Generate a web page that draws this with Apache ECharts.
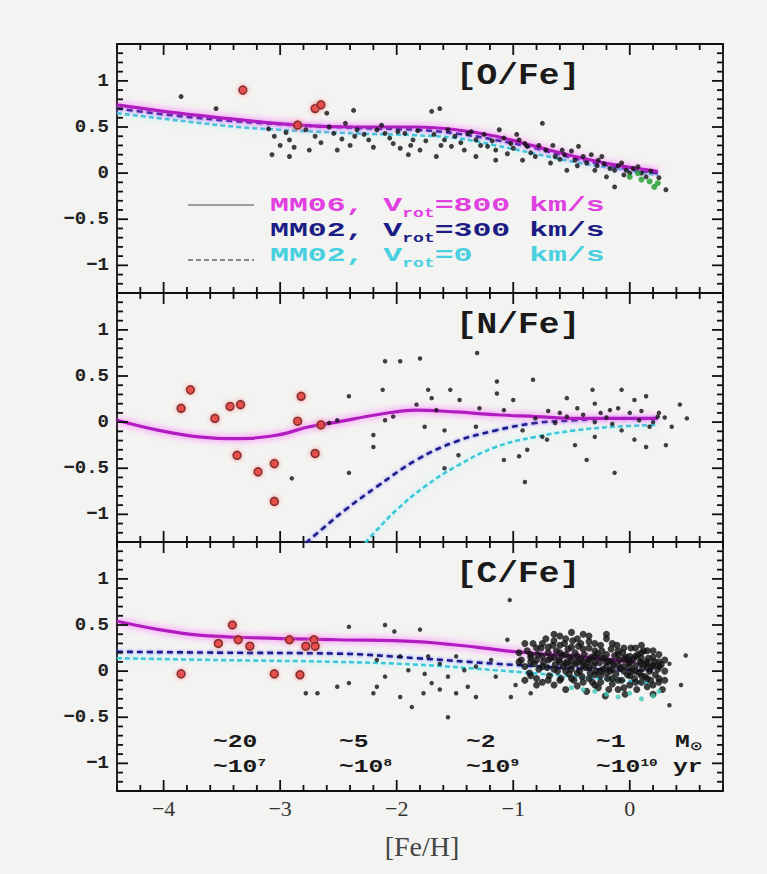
<!DOCTYPE html>
<html>
<head>
<meta charset="utf-8">
<script src="https://cdn.jsdelivr.net/npm/echarts@6/dist/echarts.min.js"></script>
<style>
  html, body { margin: 0; padding: 0; background: #f3f3f1; }
  #chart { width: 767px; height: 874px; }
</style>
</head>
<body>
<div id="chart"></div>
<script>
// ---- axes ----
const xMajor = [-4, -3, -2, -1, 0];
const yMajor = [-1, -0.5, 0, 0.5, 1];
const panelTitles = ['[O/Fe]', '[N/Fe]', '[C/Fe]'];
const massLabels = ['~20', '~5', '~2', '~1'];
const ageExponents = ['7', '8', '9', '10'];

// ---- [O/Fe] ----
const oMM06 = [[-4.4,0.74],[-3.87,0.65],[-3.36,0.58],[-2.85,0.52],[-2.34,0.50],[-1.83,0.50],[-1.49,0.47],[-1.15,0.40],[-0.81,0.29],[-0.47,0.18],[-0.13,0.09],[0.24,0.02]];
const oMM02v300 = [[-4.4,0.70],[-3.87,0.62],[-3.36,0.56],[-2.85,0.52],[-2.34,0.49],[-1.83,0.47],[-1.49,0.43],[-1.15,0.36],[-0.81,0.27],[-0.47,0.16],[-0.13,0.07],[0.24,0.0]];
const oMM02v0 = [[-4.4,0.65],[-3.87,0.57],[-3.36,0.50],[-2.85,0.46],[-2.34,0.43],[-1.83,0.41],[-1.49,0.38],[-1.15,0.30],[-0.81,0.21],[-0.47,0.12],[-0.13,0.05],[0.24,-0.02]];
const oStars = [[-3.85,0.83],[-3.55,0.70],[-3.05,0.40],[-3.07,0.20],[-2.92,0.36],[-2.92,0.18],[-2.78,0.47],[-2.75,0.25],[-2.6,0.65],[-2.54,0.43],[-2.51,0.25],[-2.44,0.54],[-2.37,0.68],[-2.36,0.40],[-2.34,0.47],[-2.24,0.36],[-2.17,0.47],[-2.10,0.43],[-2.03,0.32],[-1.97,0.27],[-1.93,0.43],[-1.9,0.2],[-1.86,0.36],[-1.8,0.25],[-1.70,0.67],[-1.66,0.18],[-1.63,0.70],[-1.59,0.36],[-1.56,0.47],[-1.53,0.29],[-1.42,0.25],[-1.39,0.43],[-1.32,0.36],[-1.32,0.18],[-1.22,0.29],[-1.15,0.14],[-1.15,0.25],[-1.12,0.47],[-1.05,0.21],[-1.02,0.32],[-0.95,0.36],[-0.92,0.14],[-0.88,0.29],[-0.81,0.18],[-0.75,0.54],[-0.68,0.11],[-0.64,0.18],[-0.58,0.25],[-0.54,0.03],[-0.47,0.14],[-0.44,0.29],[-0.37,0.11],[-0.30,0.03],[-0.27,0.14],[-0.24,0.18],[-0.2,-0.04],[-0.13,0.03],[-0.13,-0.15],[-0.07,0.11],[-0.03,0.03],[0.0,0.0],[0.07,0.07],[0.14,-0.04],[0.31,-0.18],
  [-3.1,0.48],[-3.0,0.30],[-2.95,0.44],[-2.88,0.28],[-2.7,0.40],[-2.65,0.33],[-2.58,0.50],[-2.47,0.37],[-2.4,0.30],[-2.28,0.42],[-2.2,0.28],[-2.13,0.52],[-2.06,0.38],[-1.99,0.45],[-1.88,0.30],[-1.82,0.46],[-1.75,0.35],[-1.68,0.42],[-1.62,0.30],[-1.5,0.40],[-1.45,0.33],[-1.36,0.45],[-1.28,0.30],[-1.25,0.42],[-1.18,0.35],[-1.08,0.38],[-1.0,0.27],[-0.97,0.42],[-0.9,0.32],[-0.85,0.22],[-0.78,0.30],[-0.72,0.25],[-0.66,0.30],[-0.6,0.15],[-0.56,0.20],[-0.5,0.24],[-0.45,0.08],[-0.4,0.18],[-0.33,0.20],[-0.28,0.08],[-0.22,0.10],[-0.17,0.05],[-0.1,0.08],[-0.05,-0.02],[0.03,0.05],[0.1,0.0],[0.18,0.02],[0.25,-0.05]];
const oHaloStars = [[-3.32,0.90],[-2.70,0.70],[-2.65,0.74],[-2.85,0.52]];
const oSolarStars = [[0.0,-0.04],[0.07,0.0],[0.1,-0.07],[0.17,-0.09],[0.21,-0.15],[0.24,-0.11]];

// ---- [N/Fe] ----
const nMM06 = [[-4.4,0.02],[-4.04,-0.09],[-3.70,-0.16],[-3.36,-0.18],[-3.02,-0.14],[-2.75,-0.05],[-2.51,0.0],[-2.17,0.08],[-1.83,0.13],[-1.49,0.11],[-1.15,0.08],[-0.81,0.06],[-0.47,0.04],[-0.13,0.04],[0.24,0.04]];
const nMM02v300 = [[-2.78,-1.31],[-2.65,-1.17],[-2.44,-0.95],[-2.17,-0.70],[-1.83,-0.41],[-1.49,-0.21],[-1.15,-0.09],[-0.81,-0.01],[-0.47,0.02],[-0.13,0.04],[0.24,0.04]];
const nMM02v0 = [[-2.27,-1.31],[-2.17,-1.17],[-2.0,-0.95],[-1.76,-0.70],[-1.49,-0.48],[-1.15,-0.27],[-0.81,-0.16],[-0.47,-0.09],[-0.13,-0.05],[0.24,-0.03]];
const nStars = [[-2.9,-0.61],[-2.41,0.28],[-2.41,-0.55],[-2.12,0.35],[-2.10,0.66],[-1.97,0.66],[-1.80,0.69],[-1.31,0.75],[-1.73,0.35],[-1.54,0.35],[-1.70,0.26],[-1.46,0.24],[-1.14,0.44],[-0.83,0.46],[-1.14,0.31],[-1.0,0.24],[-0.54,0.26],[-0.32,0.35],[-0.07,0.35],[0.14,0.28],[0.43,0.19],[0.49,0.04],[0.36,-0.05],[0.31,-0.25],[0.14,-0.27],[0.04,-0.19],[-0.13,-0.55],[-0.37,-0.41],[-0.47,-0.25],[-0.71,-0.19],[-0.88,-0.30],[-0.95,-0.37],[-0.9,-0.65],[-1.08,-0.41],[-1.47,-0.36],[-1.59,-0.50],[-2.2,-0.27],[-2.2,-0.14],[-2.1,0.02],[-2.03,0.06],[-1.83,0.19],[-1.66,0.13],[-1.76,-0.05],[-1.59,-0.09],[-1.32,-0.05],[-1.08,0.13],[-0.92,-0.09],[-0.75,-0.16],[-0.64,-0.01],[-0.30,0.20],[-0.17,0.13],[0.04,0.24],[0.17,-0.05],[0.24,0.06],[-0.30,-0.16],[-0.07,-0.09],[-0.81,0.04],[-0.54,0.06],[-1.29,0.15],[-2.51,0.02],[-2.58,-0.01],
  [-0.6,0.10],[-0.4,0.08],[-0.2,0.05],[0.0,0.10],[0.1,0.12],[0.2,0.0],[0.25,0.10],[-0.1,0.15],[0.3,0.05],[-0.3,0.0],[-0.45,0.15],[-0.15,-0.02],[0.08,0.02],[-0.7,0.12],[-0.25,0.1]];
const nHaloStars = [[-3.77,0.35],[-3.85,0.15],[-3.56,0.04],[-3.43,0.17],[-3.34,0.19],[-3.37,-0.36],[-3.19,-0.54],[-3.05,-0.45],[-3.05,-0.86],[-2.82,0.28],[-2.85,0.01],[-2.70,-0.34],[-2.65,-0.03]];

// ---- [C/Fe] ----
const cMM06 = [[-4.4,0.54],[-4.04,0.45],[-3.70,0.39],[-3.19,0.36],[-2.51,0.34],[-1.83,0.32],[-1.32,0.26],[-0.98,0.21],[-0.47,0.16],[0.04,0.10]];
const cMM02v300 = [[-4.4,0.21],[-3.53,0.20],[-2.51,0.19],[-1.83,0.14],[-1.15,0.08],[-0.47,0.03],[0.2,0.0]];
const cMM02v0 = [[-4.4,0.14],[-3.53,0.12],[-2.51,0.10],[-1.83,0.07],[-1.15,0.01],[-0.47,-0.06],[0.2,-0.13]];
const cHaloStars = [[-3.85,-0.03],[-3.41,0.50],[-3.53,0.30],[-3.36,0.34],[-3.26,0.27],[-3.05,-0.03],[-2.92,0.34],[-2.83,-0.04],[-2.71,0.34],[-2.70,0.27],[-2.78,0.27]];
const cHaloField = [[-2.41,0.48],[-2.10,0.50],[-1.80,0.45],[-1.03,0.77],[-2.02,0.43],[-2.78,-0.24],[-2.68,-0.24],[-2.51,-0.17],[-2.41,-0.13],[-2.2,-0.24],[-2.17,-0.17],[-2.1,-0.06],[-1.97,-0.28],[-1.87,-0.39],[-1.77,-0.24],[-1.7,-0.13],[-1.63,-0.20],[-1.56,-0.06],[-1.49,-0.24],[-1.39,-0.17],[-1.32,-0.28],[-1.02,-0.28],[-0.98,-0.15],[-0.85,-0.24],[-1.56,-0.50],[-2.17,0.12],[-1.97,0.16],[-1.73,0.16],[-1.63,0.08],[-1.49,0.16],[-1.32,0.05],[-1.19,0.12],[-1.9,0.01],[-1.76,-0.03],[-1.42,0.01],[-1.15,-0.06],[-1.05,0.34],[0.48,0.17],[0.44,-0.15],[0.34,-0.37],[0.34,0.08]];
const cDiskStars = [
  [-0.93,0.12],[-0.9,0.05],[-0.88,0.22],[-0.86,-0.02],[-0.85,0.15],[-0.83,0.30],[-0.82,0.08],[-0.8,-0.08],[-0.79,0.18],[-0.78,0.02],[-0.76,0.25],[-0.75,-0.12],[-0.74,0.10],[-0.72,0.35],[-0.71,0.04],[-0.7,0.20],[-0.69,-0.05],[-0.68,0.14],[-0.66,0.28],[-0.65,-0.15],[-0.64,0.07],[-0.63,0.22],[-0.62,0.0],[-0.61,0.12],[-0.6,0.38],[-0.59,-0.08],[-0.58,0.17],[-0.57,0.05],[-0.56,0.30],[-0.55,-0.20],[-0.54,0.10],[-0.53,0.24],[-0.52,-0.03],[-0.51,0.15],[-0.5,0.02],[-0.49,0.33],[-0.48,-0.10],[-0.47,0.20],[-0.46,0.08],[-0.45,-0.16],[-0.44,0.27],[-0.43,0.0],[-0.42,0.13],[-0.41,-0.06],[-0.4,0.40],[-0.39,0.18],[-0.38,0.04],[-0.37,-0.22],[-0.36,0.10],[-0.35,0.25],[-0.34,-0.02],[-0.33,0.15],[-0.32,-0.12],[-0.31,0.06],[-0.3,0.30],[-0.29,0.0],[-0.28,0.19],[-0.27,-0.18],[-0.26,0.09],[-0.25,-0.05],[-0.24,0.22],[-0.23,0.02],[-0.22,0.14],[-0.21,-0.27],[-0.2,0.35],[-0.19,-0.08],[-0.18,0.11],[-0.17,0.0],[-0.16,0.24],[-0.15,-0.14],[-0.14,0.07],[-0.13,0.17],[-0.12,-0.03],[-0.11,0.28],[-0.1,-0.20],[-0.09,0.12],[-0.08,0.03],[-0.07,-0.10],[-0.06,0.20],[-0.05,0.05],[-0.04,-0.25],[-0.03,0.15],[-0.02,-0.04],[-0.01,0.09],[0.0,-0.15],[0.01,0.25],[0.02,0.0],[0.03,0.13],[0.04,-0.08],[0.05,0.06],[0.06,-0.20],[0.07,0.18],[0.08,-0.02],[0.09,0.10],[0.1,-0.12],[0.11,0.03],[0.12,0.22],[0.13,-0.06],[0.14,0.08],[0.15,-0.17],[0.16,0.14],[0.17,0.0],[0.18,-0.10],[0.19,0.05],[0.2,-0.25],[0.21,0.10],[0.22,-0.04],[0.24,0.02],[0.25,-0.12],[0.27,0.07],[0.28,-0.20],[0.3,0.0],
  [-0.6,0.10],[-0.55,0.08],[-0.5,0.12],[-0.45,0.10],[-0.4,0.06],[-0.35,0.12],[-0.3,0.10],[-0.25,0.15],[-0.2,0.05],[-0.15,0.10],[-0.1,0.06],[-0.05,0.13],[0.0,0.04],[0.05,0.16],[0.1,0.08],[0.15,0.04],[0.2,0.15],[-0.42,0.30],[-0.3,-0.15],[-0.18,-0.20],[0.1,0.20],[0.25,0.18],[-0.65,0.40],[-0.5,0.42],[-0.35,0.38],[-0.2,0.40],
  [-0.95,0.10],[-0.95,0.20],[-0.9,0.30],[-0.9,-0.10],[-0.85,0.18],[-0.85,-0.05],[-0.85,0.10],[-0.8,0.25],[-0.8,0.12],[-0.8,-0.15],[-0.75,0.05],[-0.75,0.30],[-0.75,0.16],[-0.7,-0.10],[-0.7,0.12],[-0.7,0.26],[-0.65,0.15],[-0.65,0.02],[-0.65,0.33],[-0.6,0.20],[-0.6,-0.10],[-0.6,0.28],[-0.55,0.0],[-0.55,0.18],[-0.55,0.35],[-0.5,-0.08],[-0.5,0.26],[-0.5,0.06],[-0.45,0.16],[-0.45,0.35],[-0.45,-0.02],[-0.4,0.24],[-0.4,-0.12],[-0.4,0.10],[-0.35,0.04],[-0.35,0.32],[-0.35,-0.08],[-0.3,0.16],[-0.3,0.22],[-0.3,-0.04],[-0.25,0.28],[-0.25,0.0],[-0.25,-0.12],[-0.2,0.18],[-0.2,-0.02],[-0.2,0.10],[-0.15,0.30],[-0.15,0.02],[-0.15,-0.08],[-0.1,0.18],[-0.1,0.22],[-0.1,-0.10],[-0.05,0.0],[-0.05,0.25],[-0.05,-0.18],[0.0,0.16],[0.0,0.10],[0.0,-0.05],[0.05,0.25],[0.05,-0.12],[0.05,0.0],[0.1,0.14],[0.1,-0.05],[0.1,0.28],[0.15,0.22],[0.15,-0.08],[0.15,0.10],[0.2,0.06],[0.2,-0.15],[0.2,0.22],[0.25,-0.08],[0.25,0.10],[0.25,0.05],[0.3,0.12],[0.3,-0.10]];
const cSolarStars = [[-0.5,-0.18],[-0.4,-0.20],[-0.3,-0.22],[-0.2,-0.25],[-0.1,-0.28],[0.0,-0.24],[0.1,-0.30],[0.2,-0.27],[0.25,-0.22]];

// ---- layout ----
const X_MIN = -4.4, X_MAX = 0.8, Y_MIN = -1.3, Y_MAX = 1.4;
const GRID_LEFT = 117, GRID_W = 606, GRID_TOP = 44, GRID_H = 249;
const INK = '#101010';
const minus = v => (v < 0 ? '\u2212' : '') + Math.abs(v);

function steps(a, b, s) {
  const out = [];
  for (let v = a; v <= b + 1e-9; v += s) out.push(+v.toFixed(2));
  return out;
}
const isMajorX = v => xMajor.some(m => Math.abs(m - v) < 1e-6);
const isMajorY = v => yMajor.some(m => Math.abs(m - v) < 1e-6);
const xTickValues = steps(-4.4, 0.8, 0.2);
const yTickValues = steps(-1.3, 1.4, 0.1);

const grids = [], xAxes = [], yAxes = [];
for (let g = 0; g < 3; g++) {
  grids.push({ left: GRID_LEFT, width: GRID_W, top: GRID_TOP + g * GRID_H, height: GRID_H,
    show: true, borderColor: INK, borderWidth: 1.8, backgroundColor: 'transparent' });
  xAxes.push({ type: 'value', gridIndex: g, position: 'bottom', min: X_MIN, max: X_MAX,
    axisLine: { show: false, onZero: false }, splitLine: { show: false }, axisTick: { show: false },
    axisLabel: { show: g === 2, customValues: xMajor, formatter: minus, margin: 6,
      fontFamily: 'Liberation Serif', fontSize: 22, color: '#333' } });
  yAxes.push({ type: 'value', gridIndex: g, position: 'left', min: Y_MIN, max: Y_MAX,
    axisLine: { show: false, onZero: false }, splitLine: { show: false }, axisTick: { show: false },
    axisLabel: { show: true, customValues: yMajor, formatter: minus, margin: 8,
      fontFamily: 'Liberation Mono', fontWeight: 'bold', fontSize: 19, color: '#222' } });
}

const MAGENTA = '#b01cc0', NAVY = '#1c1c86', CYAN = '#3cc8d8';
function model(g, data, kind) {
  const styles = {
    mm06: { color: MAGENTA, width: 3.2, type: 'solid', shadowColor: '#ff55ff', shadowBlur: 7 },
    v300: { color: NAVY, width: 2.6, type: [6, 4], shadowColor: '#6a6aff', shadowBlur: 3 },
    v0:   { color: CYAN, width: 2.6, type: [5, 3], shadowColor: '#a0f4ff', shadowBlur: 6 }
  };
  return { type: 'line', xAxisIndex: g, yAxisIndex: g, data, smooth: 0.4,
    showSymbol: false, silent: true, z: 3, lineStyle: styles[kind] };
}
function stars(g, data, color, size, z) {
  return { type: 'scatter', xAxisIndex: g, yAxisIndex: g, data, symbolSize: size,
    silent: true, z: z, itemStyle: { color } };
}
function halo(g, data) {
  return { type: 'scatter', xAxisIndex: g, yAxisIndex: g, data, symbolSize: 8,
    silent: true, z: 5, itemStyle: { color: '#e0302a', borderColor: '#5a1010', borderWidth: 1.5,
      shadowColor: '#ff8080', shadowBlur: 4 } };
}

const series = [
  model(0, oMM02v0, 'v0'), model(0, oMM02v300, 'v300'), model(0, oMM06, 'mm06'),
  stars(0, oStars, '#111', 5, 4), stars(0, oSolarStars, '#1a9a2a', 6, 4), halo(0, oHaloStars),
  model(1, nMM02v0, 'v0'), model(1, nMM02v300, 'v300'), model(1, nMM06, 'mm06'),
  stars(1, nStars, '#111', 4.5, 4), halo(1, nHaloStars),
  model(2, cMM02v0, 'v0'), model(2, cMM02v300, 'v300'), model(2, cMM06, 'mm06'),
  stars(2, cHaloField, '#111', 4.5, 4), stars(2, cDiskStars, '#111', 7, 4),
  stars(2, cSolarStars, '#3cc8b8', 5, 4), halo(2, cHaloStars)
];

// ---- text overlays ----
const MONO = 'Liberation Mono';
const graphic = [];
panelTitles.forEach((t, g) => {
  graphic.push({ type: 'text', x: 518, y: GRID_TOP + g * GRID_H + 32, scaleX: 1.15, originX: 0,
    style: { text: t, font: 'bold 30px "Liberation Mono"', fill: '#1a1a1a',
      textAlign: 'center', textVerticalAlign: 'middle' } });
});

// model key
const legendRows = [
  { name: 'MM06, V', sub: 'rot', rest: '=800 km/s', color: '#e040e0', y: 206 },
  { name: 'MM02, V', sub: 'rot', rest: '=300 km/s', color: NAVY, y: 231 },
  { name: 'MM02, V', sub: 'rot', rest: '=0   km/s', color: '#48d0e0', y: 256 }
];
legendRows.forEach(r => {
  const big = 21, small = 12, adv = 0.6;
  graphic.push({ type: 'group', x: 270, y: r.y, scaleX: 1.5, children: [
    { type: 'text', x: 0, y: 0, style: { text: r.name, font: `bold ${big}px "${MONO}"`, fill: r.color, textVerticalAlign: 'middle' } },
    { type: 'text', x: r.name.length * big * adv, y: 8, style: { text: r.sub, font: `bold ${small}px "${MONO}"`, fill: r.color, textVerticalAlign: 'middle' } },
    { type: 'text', x: r.name.length * big * adv + r.sub.length * small * adv, y: 0, style: { text: r.rest, font: `bold ${big}px "${MONO}"`, fill: r.color, textVerticalAlign: 'middle' } }
  ]});
});
graphic.push({ type: 'line', shape: { x1: 188, y1: 205, x2: 254, y2: 205 }, style: { stroke: '#8a7a8a', lineWidth: 1.5 } });
graphic.push({ type: 'line', shape: { x1: 188, y1: 260, x2: 254, y2: 260 }, style: { stroke: '#666', lineWidth: 1.5, lineDash: [5, 3] } });

// stellar mass and lifetime scale
const scaleCols = [213, 339, 466, 596];
const ROW1 = 742, ROW2 = 767;
massLabels.forEach((m, i) => {
  graphic.push({ type: 'text', x: scaleCols[i], y: ROW1, scaleX: 1.3,
    style: { text: m, font: `bold 19px "${MONO}"`, fill: '#1a1a1a', textVerticalAlign: 'middle' } });
  graphic.push({ type: 'text', x: scaleCols[i], y: ROW2, scaleX: 1.3,
    style: { text: `{a|~10}{s|${ageExponents[i]}}`, fill: '#1a1a1a', textVerticalAlign: 'middle',
      rich: { a: { font: `bold 19px "${MONO}"`, fill: '#1a1a1a', verticalAlign: 'bottom' },
              s: { font: `bold 11px "${MONO}"`, fill: '#1a1a1a', verticalAlign: 'top' } } } });
});
graphic.push({ type: 'text', x: 675, y: ROW1, scaleX: 1.3,
  style: { text: '{a|M}{s|\u2299}', fill: '#1a1a1a', textVerticalAlign: 'middle',
    rich: { a: { font: `bold 19px "${MONO}"`, fill: '#1a1a1a', verticalAlign: 'top' },
            s: { font: `bold 12px "DejaVu Sans"`, fill: '#1a1a1a', verticalAlign: 'bottom' } } } });
graphic.push({ type: 'text', x: 673, y: ROW2, scaleX: 1.3,
  style: { text: 'yr', font: `bold 19px "${MONO}"`, fill: '#1a1a1a', textVerticalAlign: 'middle' } });

// x-axis title
graphic.push({ type: 'text', x: 422, y: 846,
  style: { text: '[Fe/H]', font: '28px "Liberation Serif"', fill: '#444',
    textAlign: 'center', textVerticalAlign: 'middle' } });

const chart = echarts.init(document.getElementById('chart'), null, { renderer: 'svg' });
chart.setOption({
  backgroundColor: '#f3f3f1',
  animation: false,
  grid: grids,
  xAxis: xAxes,
  yAxis: yAxes,
  series,
  graphic
});

// inward tick marks on all four edges of each panel, placed through the axis scales
const tickMarks = [];
function tick(x1, y1, x2, y2) {
  tickMarks.push({ type: 'line', silent: true, z: 50,
    shape: { x1, y1, x2, y2 }, style: { stroke: INK, lineWidth: 1.8 } });
}
for (let g = 0; g < 3; g++) {
  xTickValues.forEach(v => {
    const len = isMajorX(v) ? 11 : 6;
    const b = chart.convertToPixel({ gridIndex: g }, [v, Y_MIN]);
    const t = chart.convertToPixel({ gridIndex: g }, [v, Y_MAX]);
    tick(b[0], b[1], b[0], b[1] - len);
    tick(t[0], t[1], t[0], t[1] + len);
  });
  yTickValues.forEach(v => {
    const len = isMajorY(v) ? 11 : 6;
    const l = chart.convertToPixel({ gridIndex: g }, [X_MIN, v]);
    const r = chart.convertToPixel({ gridIndex: g }, [X_MAX, v]);
    tick(l[0], l[1], l[0] + len, l[1]);
    tick(r[0], r[1], r[0] - len, r[1]);
  });
}
chart.setOption({ graphic: graphic.concat(tickMarks) });
</script>
</body>
</html>
